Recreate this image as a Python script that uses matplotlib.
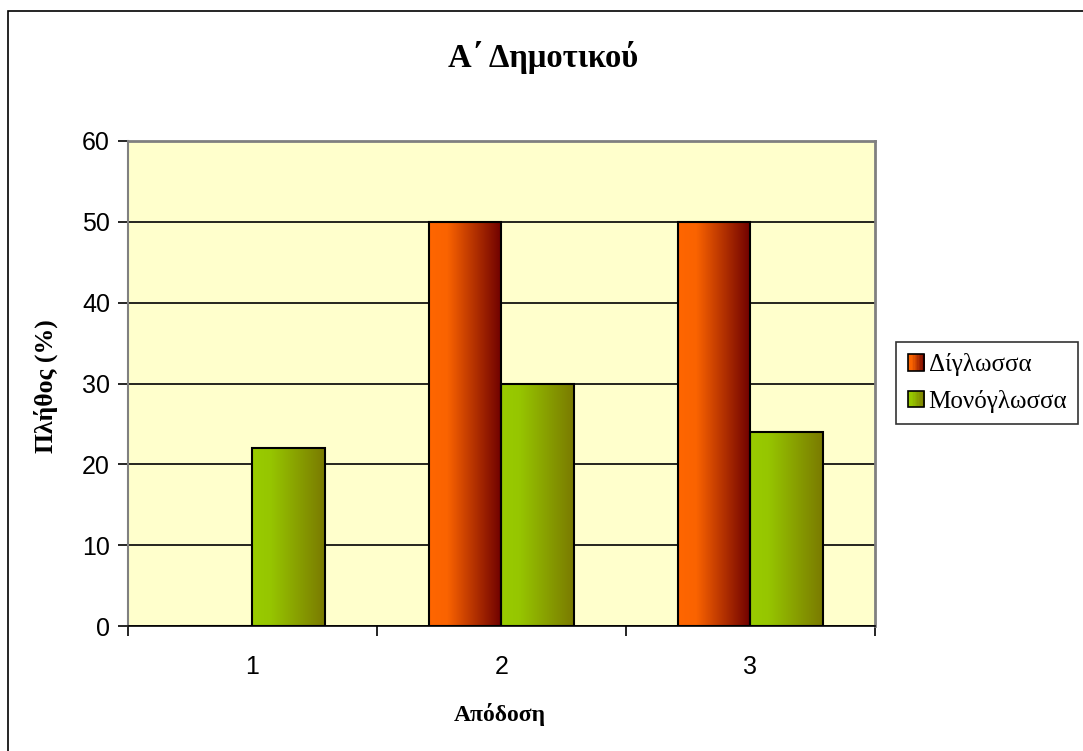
import numpy as np
import matplotlib
matplotlib.use("Agg")
import matplotlib.pyplot as plt
from matplotlib.patches import Rectangle
from matplotlib.legend_handler import HandlerBase
from matplotlib.colors import LinearSegmentedColormap

# Data
categories = ["1", "2", "3"]
series_names = ["Δίγλωσσα", "Μονόγλωσσα"]
bilingual = [0, 50, 50]
monolingual = [22, 30, 24]
y_ticks = [0, 10, 20, 30, 40, 50, 60]

title = "Α΄ Δημοτικού"
xlabel = "Απόδοση"
ylabel = "Πλήθος (%)"

# Horizontal gradient colormaps for the two series
cmap_bi = LinearSegmentedColormap.from_list(
    "bi", [(0.0, "#ff6600"), (0.25, "#fa6300"), (1.0, "#6e0000")])
cmap_mono = LinearSegmentedColormap.from_list(
    "mono", [(0.0, "#99cc00"), (0.25, "#96c600"), (1.0, "#7a7a00")])

serif = ["Liberation Serif", "DejaVu Serif"]
sans = ["Liberation Sans", "DejaVu Sans"]

fig = plt.figure(figsize=(10.83, 7.51), dpi=100)
fig.patch.set_facecolor("white")

# Outer chart frame (extends past the right/bottom edges)
fig.patches.append(Rectangle((8 / 1083, -0.05), 1.2, 1 - 11 / 751 + 0.05,
                             transform=fig.transFigure, fill=False,
                             edgecolor="black", linewidth=1.2))

ax = fig.add_axes([128 / 1083, 125 / 751, 747 / 1083, 485 / 751])
ax.set_facecolor("#ffffcc")

x = np.arange(len(categories))
w = 0.29
grad = np.linspace(0, 1, 256).reshape(1, -1)

for vals, cmap, off in [(bilingual, cmap_bi, -w / 2), (monolingual, cmap_mono, w / 2)]:
    bars = ax.bar(x + off, vals, width=w, facecolor="none",
                  edgecolor="black", linewidth=1.5, zorder=4)
    for b in bars:
        h = b.get_height()
        if h <= 0:
            continue
        bx, bw = b.get_x(), b.get_width()
        im = ax.imshow(grad, cmap=cmap, aspect="auto",
                       extent=(bx, bx + bw, 0, h), zorder=3,
                       interpolation="bilinear")
        im.set_clip_path(b)

ax.set_xlim(-0.5, len(categories) - 0.5)
ax.set_ylim(0, 60)
ax.set_yticks(y_ticks)
ax.yaxis.grid(True, color="black", linewidth=1.2, zorder=1)
ax.set_axisbelow(True)

# Category axis: ticks between categories, labels at centres
ax.set_xticks(np.arange(-0.5, len(categories)), minor=False)
ax.set_xticklabels([])
ax.set_xticks(x, minor=True)
ax.set_xticklabels(categories, minor=True)
ax.tick_params(axis="x", which="minor", length=0, pad=21)
ax.tick_params(axis="x", which="major", length=7, direction="out", width=1.2)
ax.tick_params(axis="y", length=7, direction="out", width=1.2, pad=6)
for lab in ax.get_xticklabels(minor=True) + ax.get_yticklabels():
    lab.set_fontfamily(sans)
    lab.set_fontsize(18)

for side in ["top", "right"]:
    ax.spines[side].set_color("#808080")
    ax.spines[side].set_linewidth(2)
ax.spines["left"].set_color("#808080")
ax.spines["left"].set_linewidth(1.5)
ax.spines["bottom"].set_color("black")
ax.spines["bottom"].set_linewidth(1.2)

fig.text(543 / 1083, 1 - 58 / 751, title, ha="center", va="center",
         fontsize=23.5, fontweight="bold", family=serif)
fig.text(500 / 1083, 1 - 715 / 751, xlabel, ha="center", va="center",
         fontsize=17, fontweight="bold", family=serif)
fig.text(46 / 1083, 1 - 386 / 751, ylabel, ha="center", va="center",
         rotation=90, fontsize=18.5, fontweight="bold", family=serif)


class GradientHandler(HandlerBase):
    def __init__(self, cmap):
        super().__init__()
        self.cmap = cmap

    def create_artists(self, legend, orig_handle, xdescent, ydescent,
                       width, height, fontsize, trans):
        n = 12
        artists = []
        side = height * 0.95
        x0 = xdescent * -1 + (width - side) / 2
        y0 = -ydescent + (height - side) / 2
        for i in range(n):
            artists.append(Rectangle((x0 + side * i / n, y0), side / n + 0.2, side,
                                     facecolor=self.cmap((i + 0.5) / n),
                                     edgecolor="none", transform=trans))
        artists.append(Rectangle((x0, y0), side, side, facecolor="none",
                                 edgecolor="black", linewidth=1.2, transform=trans))
        return artists


h1 = Rectangle((0, 0), 1, 1)
h2 = Rectangle((0, 1), 1, 1)
leg = fig.legend([h1, h2], series_names,
                 handler_map={h1: GradientHandler(cmap_bi), h2: GradientHandler(cmap_mono)},
                 loc="center left", bbox_to_anchor=(896 / 1083, 1 - 383 / 751),
                 prop={"family": serif, "size": 18}, frameon=True, fancybox=False,
                 edgecolor="black", handlelength=0.7, handletextpad=0.15,
                 labelspacing=0.55, borderpad=0.45, borderaxespad=0)
leg.get_frame().set_linewidth(1.2)

fig.savefig("out.png", dpi=100)
